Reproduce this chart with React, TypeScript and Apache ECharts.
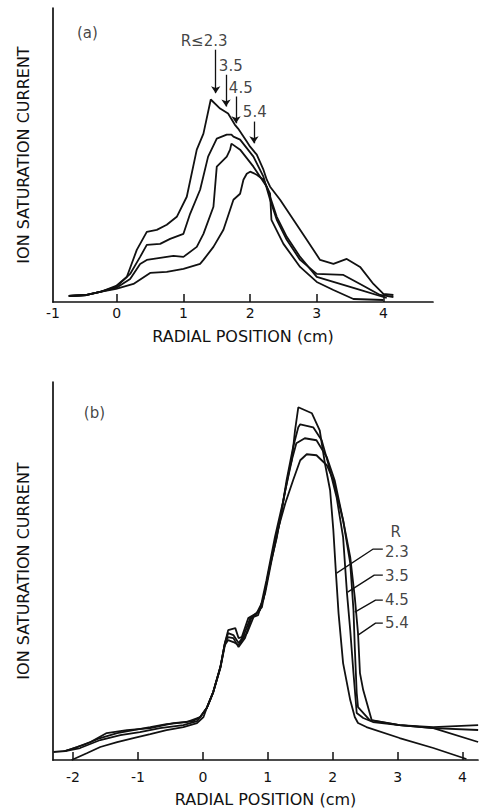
import React, { useEffect, useRef } from "react";
import * as echarts from "echarts";

// ---------- Panel (a) data: radial position (cm) vs ion saturation current (arb.) ----------
const topR23: number[][] = [[-0.72,6],[-0.45,7],[-0.25,10],[-0.01,16],[0.15,25],[0.30,52],[0.45,70],[0.60,72],[0.75,77],[0.90,85],[1.05,105],[1.20,152],[1.30,168],[1.41,202],[1.55,193],[1.67,188],[1.77,177],[1.82,173],[1.95,160],[2.00,155],[2.10,147],[2.20,132],[2.25,122],[2.30,115],[2.45,102],[2.55,92],[2.65,82],[2.85,62],[3.05,42],[3.25,38],[3.45,43],[3.65,35],[3.85,18],[4.00,8],[4.15,7]];
const topR35: number[][] = [[-0.72,6],[-0.45,7],[-0.25,10],[-0.01,15],[0.20,28],[0.35,45],[0.45,57],[0.65,58],[0.80,63],[1.00,68],[1.10,88],[1.25,112],[1.37,145],[1.50,163],[1.65,167],[1.72,167],[1.75,165],[1.85,162],[2.05,145],[2.20,125],[2.30,102],[2.40,82],[2.55,62],[2.75,42],[3.00,28],[3.40,27],[3.65,18],[3.95,7],[4.15,5]];
const topR45: number[][] = [[-0.72,6],[-0.45,7],[-0.25,10],[-0.01,14],[0.20,23],[0.35,38],[0.45,42],[0.65,44],[0.85,46],[1.00,45],[1.20,55],[1.30,68],[1.45,95],[1.50,135],[1.65,145],[1.70,152],[1.72,158],[1.85,152],[2.05,135],[2.25,115],[2.40,85],[2.55,65],[2.75,45],[3.00,25],[3.25,20],[3.65,12],[4.05,4]];
const topR54: number[][] = [[-0.72,6],[-0.45,7],[-0.25,10],[-0.01,13],[0.25,18],[0.50,29],[0.75,30],[1.00,33],[1.25,38],[1.30,42],[1.45,55],[1.60,72],[1.75,102],[1.85,108],[1.90,122],[1.95,128],[2.00,130],[2.10,127],[2.20,122],[2.30,108],[2.32,82],[2.50,58],[2.75,35],[3.00,20],[3.25,12],[3.55,3],[4.00,2]];

// arrows in panel (a): [x, yStart, yEnd]
const topArrows: number[][] = [[1.484,251.7,208.3],[1.639,226.7,195],[1.789,205,178.3],[2.058,180,158.3]];
const topArrowLabels = ["R≤2.3", "3.5", "4.5", "5.4"];
const topArrowLabelPos: number[][] = [[1.31,260],[1.71,235.5],[1.86,213],[2.07,190]];

// ---------- Panel (b) data ----------
const botR23: number[][] = [[-2.30,8],[-2.12,9],[-1.84,15],[-1.58,22],[-1.32,27],[-1.07,30],[-0.81,33],[-0.56,36],[-0.25,38],[-0.04,43],[0.06,52],[0.16,68],[0.27,93],[0.34,117],[0.39,130],[0.50,132],[0.55,122],[0.60,123],[0.70,142],[0.83,147],[0.93,160],[1.03,193],[1.14,223],[1.27,270],[1.37,300],[1.42,330],[1.47,353],[1.68,347],[1.80,330],[1.88,297],[1.96,270],[2.01,230],[2.05,187],[2.09,147],[2.16,97],[2.27,60],[2.34,43],[2.39,37],[2.52,33],[3.03,22],[3.55,12],[4.06,1]];
const botR35: number[][] = [[-2.12,9],[-1.94,13],[-1.73,18],[-1.48,27],[-1.17,30],[-0.81,32],[-0.45,37],[-0.15,39],[-0.04,43],[0.06,52],[0.16,68],[0.27,93],[0.34,117],[0.39,127],[0.47,125],[0.55,117],[0.62,123],[0.73,142],[0.85,145],[0.96,167],[1.06,200],[1.19,240],[1.29,280],[1.39,313],[1.47,333],[1.50,336],[1.70,333],[1.83,320],[1.93,297],[2.06,263],[2.16,223],[2.22,167],[2.27,130],[2.32,87],[2.37,47],[2.47,42],[2.62,38],[3.03,35],[3.55,32],[4.24,18]];
const botR45: number[][] = [[-2.12,9],[-1.89,12],[-1.58,20],[-1.27,25],[-0.97,28],[-0.66,32],[-0.30,35],[-0.09,39],[-0.04,43],[0.06,52],[0.16,68],[0.27,93],[0.34,117],[0.39,123],[0.47,122],[0.55,113],[0.65,122],[0.75,143],[0.88,150],[0.98,180],[1.11,223],[1.24,260],[1.34,293],[1.44,317],[1.57,322],[1.75,320],[1.91,303],[2.03,280],[2.16,240],[2.27,197],[2.32,150],[2.34,113],[2.37,67],[2.39,53],[2.57,40],[3.03,35],[3.55,32],[4.24,30]];
const botR54: number[][] = [[-2.02,0],[-1.78,7],[-1.58,13],[-1.32,18],[-1.07,22],[-0.81,26],[-0.56,30],[-0.30,33],[-0.09,37],[0.01,43],[0.06,52],[0.16,68],[0.27,92],[0.34,115],[0.39,120],[0.47,118],[0.55,115],[0.68,127],[0.78,143],[0.91,153],[1.01,187],[1.14,227],[1.27,257],[1.39,280],[1.50,300],[1.60,306],[1.75,305],[1.91,295],[2.01,280],[2.16,240],[2.27,203],[2.34,163],[2.39,127],[2.42,87],[2.47,70],[2.60,40],[3.03,35],[3.55,33],[4.24,35]];

// legend labels in panel (b)
const botLabels = ["R", "2.3", "3.5", "4.5", "5.4"];
const botLabelPos: number[][] = [[2.97,228],[2.99,208],[2.99,184],[2.99,160],[2.99,137]];
const botLeaders: number[][][] = [
  [[2.772,211],[2.618,211],[2.06,187]],
  [[2.772,185],[2.64,185],[2.23,168]],
  [[2.772,160],[2.66,160],[2.34,148]],
  [[2.772,137],[2.66,137],[2.39,125]],
];

// axes
const topXMin = -0.957, topXMax = 4.744;
const topTicks = [0, 1, 2, 3, 4];
const topLabelVals = [-0.957, 0, 1, 2, 3, 4];
const botXMin = -2.308, botXMax = 4.238;
const botTicks = [-2, -1, 0, 1, 2, 3, 4];
const topYMax = 293.3, botYMax = 378.3;

const FONT = "DejaVu Sans";
const INK = "#111111";

export default function App() {
  const ref = useRef<HTMLDivElement>(null);
  useEffect(() => {
    if (!ref.current) return;
    const chart = echarts.init(ref.current, undefined, { renderer: "svg" });
    const curve = (data: number[][], gi: number, name: string, extra: any = {}) => ({
      type: "line", name, data, xAxisIndex: gi, yAxisIndex: gi,
      showSymbol: false, symbol: "none", smooth: false,
      lineStyle: { color: INK, width: 1.8 }, silent: true, z: 3, ...extra,
    });
    const xAxisBase = (gi: number, min: number, max: number, ticks: number[], labels: number[], margin: number, gap: number) => ({
      type: "value", gridIndex: gi, min, max,
      axisLine: { show: true, onZero: false, lineStyle: { color: INK, width: 1.7 } },
      axisTick: { show: true, inside: true, length: 8, customValues: ticks, lineStyle: { color: INK, width: 1.5 } },
      axisLabel: {
        show: true, customValues: labels, margin, color: INK, fontSize: 14, fontFamily: FONT,
        formatter: (v: number) => (v < -0.5 && v > -1.5 ? "-1" : String(Math.round(v))),
      },
      splitLine: { show: false },
      name: "RADIAL POSITION (cm)", nameLocation: "middle", nameGap: gap,
      nameTextStyle: { color: INK, fontSize: 16, fontFamily: FONT },
    });
    const yAxisBase = (gi: number, max: number) => ({
      type: "value", gridIndex: gi, min: 0, max,
      axisLine: { show: true, onZero: false, lineStyle: { color: INK, width: 1.7 } },
      axisTick: { show: false }, axisLabel: { show: false }, splitLine: { show: false },
      name: "ION SATURATION CURRENT", nameLocation: "middle", nameGap: 22, nameRotate: 90,
      nameTextStyle: { color: INK, fontSize: 16, fontFamily: FONT },
    });
    const textSeries = (gi: number, names: string[], pos: number[][], size: number) => ({
      type: "scatter", xAxisIndex: gi, yAxisIndex: gi, symbolSize: 0, silent: true,
      data: names.map((n, i) => ({ name: n, value: pos[i] })),
      label: { show: true, position: "inside", formatter: "{b}", color: INK, fontSize: size, fontFamily: FONT },
      z: 5,
    });
    const option: any = {
      animation: false,
      backgroundColor: "#ffffff",
      grid: [
        { left: 53, top: 8, width: 380, height: 294 },
        { left: 53, top: 382, width: 425, height: 378 },
      ],
      xAxis: [
        xAxisBase(0, topXMin, topXMax, topTicks, topLabelVals, 4, 26),
        xAxisBase(1, botXMin, botXMax, botTicks, botTicks, 10, 31),
      ],
      yAxis: [yAxisBase(0, topYMax), yAxisBase(1, botYMax)],
      series: [
        curve(topR23, 0, "R≤2.3 (a)", {
          markLine: {
            silent: true, symbol: ["none", "arrow"], symbolSize: 7,
            label: { show: false },
            lineStyle: { color: INK, width: 1.3, type: "solid" },
            data: topArrows.map((a) => [{ coord: [a[0], a[1]] }, { coord: [a[0], a[2]] }]),
          },
        }),
        curve(topR35, 0, "3.5 (a)"),
        curve(topR45, 0, "4.5 (a)"),
        curve(topR54, 0, "5.4 (a)"),
        curve(botR23, 1, "2.3 (b)"),
        curve(botR35, 1, "3.5 (b)"),
        curve(botR45, 1, "4.5 (b)"),
        curve(botR54, 1, "5.4 (b)"),
        ...botLeaders.map((d, i) => curve(d, 1, "leader " + i, { lineStyle: { color: INK, width: 1.3 } })),
        textSeries(0, topArrowLabels, topArrowLabelPos, 15),
        textSeries(0, ["(a)"], [[-0.44, 268.7]], 15),
        textSeries(1, botLabels, botLabelPos, 15),
        textSeries(1, ["(b)"], [[-1.67, 347]], 15),
      ],
    };
    chart.setOption(option);
    return () => chart.dispose();
  }, []);
  return <div ref={ref} style={{ position: "absolute", left: 0, top: 0, width: 487, height: 808, background: "#fff" }} />;
}
